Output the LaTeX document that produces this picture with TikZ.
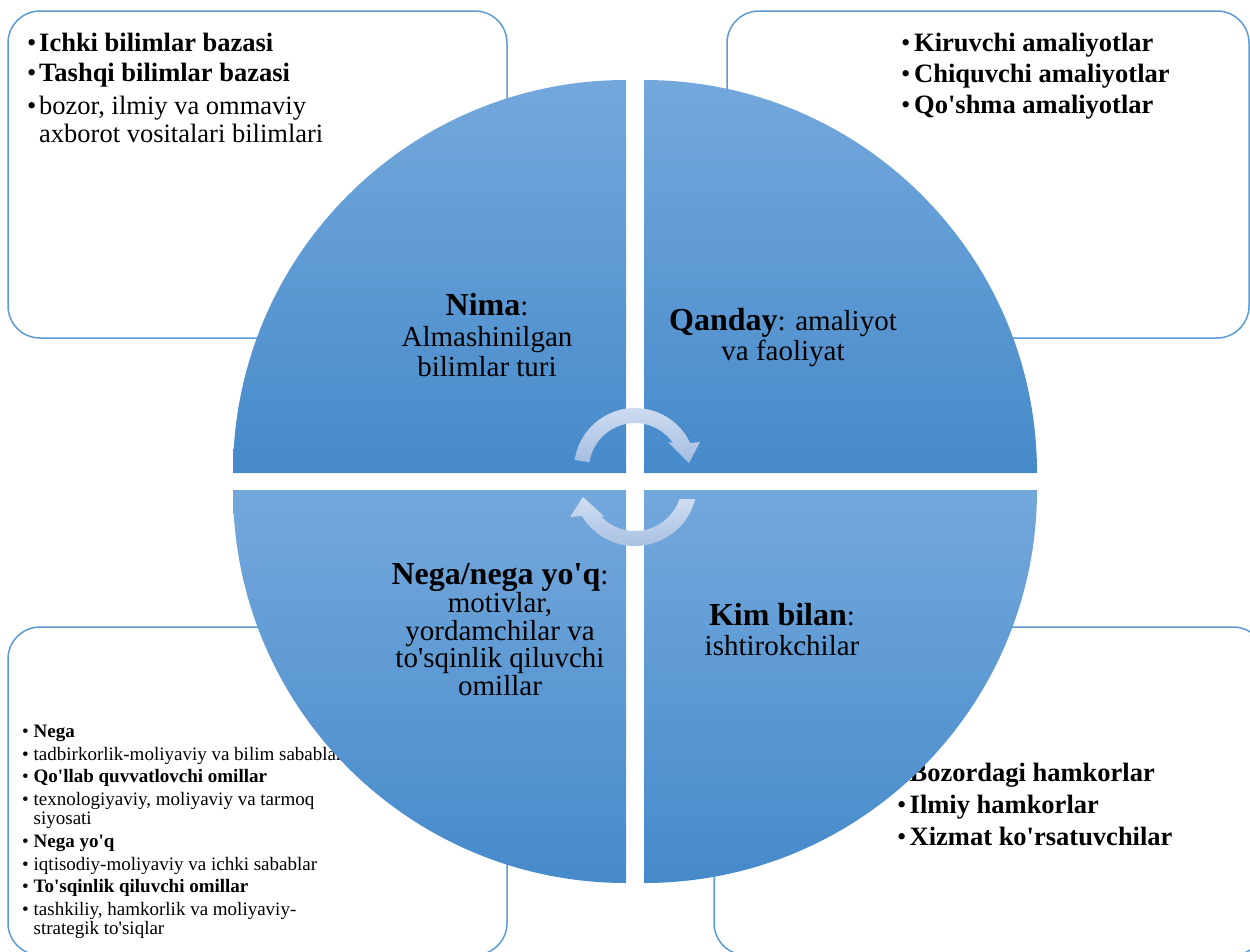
\documentclass[tikz,border=0pt]{standalone}
\usepackage{fontspec}
\setmainfont{Liberation Serif}[Ligatures=TeXOff]
\usetikzlibrary{calc}
\definecolor{boxline}{RGB}{91,155,213}
\definecolor{qtop}{RGB}{116,168,220}
\definecolor{qmid}{RGB}{90,154,214}
\definecolor{qbot}{RGB}{70,138,202}
\definecolor{arrtop}{RGB}{208,222,242}
\definecolor{arrbot}{RGB}{164,189,224}
\newcommand{\bulletbox}[1]{\makebox[#1pt][l]{•}}
\newcommand{\headword}[1]{{\fontsize{32}{36}\selectfont\bfseries #1}}

\begin{document}
\begin{tikzpicture}[x=1pt,y=-1pt,
  cornerbox/.style={draw=boxline, line width=1.5pt, fill=white, rounded corners=32pt},
  quarter/.style={top color=qtop, middle color=qmid, bottom color=qbot, draw=none},
  cyclearrow/.style={top color=arrtop, bottom color=arrbot, draw=none},
  bigitem/.style={anchor=base west, inner sep=0pt, font=\fontsize{26.5}{30}\selectfont},
  smallitem/.style={anchor=base west, inner sep=0pt, font=\fontsize{19}{21}\selectfont},
  qline/.style={anchor=base, inner sep=0pt, font=\fontsize{29}{32}\selectfont},
]
\useasboundingbox (0,0) rectangle (1250,951);
\clip (0,0) rectangle (1250,951);

% corner panels
\draw[cornerbox] (8,11) rectangle (507,338);
\draw[cornerbox] (727,11) rectangle (1249,338);
\draw[cornerbox] (8,627) rectangle (507,955);
\draw[cornerbox] (714,627) rectangle (1265,955);

% top-left panel
\node[bigitem] (tl1) at (27,51) {\bulletbox{12}\textbf{Ichki bilimlar bazasi}};
\node[bigitem] (tl2) at (27,81) {\bulletbox{12}\textbf{Tashqi bilimlar bazasi}};
\node[bigitem] (tl3) at (27,114) {\bulletbox{12}bozor, ilmiy va ommaviy};
\node[bigitem] (tl4) at (39,142) {axborot vositalari bilimlari};

% top-right panel
\node[bigitem] (tr1) at (901,51) {\bulletbox{13}\textbf{Kiruvchi amaliyotlar}};
\node[bigitem] (tr2) at (901,82) {\bulletbox{13}\textbf{Chiquvchi amaliyotlar}};
\node[bigitem] (tr3) at (901,113) {\bulletbox{13}\textbf{Qo'shma amaliyotlar}};

% bottom-right panel
\node[bigitem] (br1) at (897,781) {\bulletbox{12.5}\textbf{Bozordagi hamkorlar}};
\node[bigitem] (br2) at (897,813) {\bulletbox{12.5}\textbf{Ilmiy hamkorlar}};
\node[bigitem] (br3) at (897,845) {\bulletbox{12.5}\textbf{Xizmat ko'rsatuvchilar}};

% bottom-left panel
\node[smallitem] (bl1) at (22,737) {\bulletbox{11.5}\textbf{Nega}};
\node[smallitem] (bl2) at (22,760) {\bulletbox{11.5}tadbirkorlik-moliyaviy va bilim sabablari};
\node[smallitem] (bl3) at (22,782.5) {\bulletbox{11.5}\textbf{Qo'llab quvvatlovchi omillar}};
\node[smallitem] (bl4) at (22,805) {\bulletbox{11.5}texnologiyaviy, moliyaviy va tarmoq};
\node[smallitem] (bl5) at (33.5,824) {siyosati};
\node[smallitem] (bl6) at (22,847.5) {\bulletbox{11.5}\textbf{Nega yo'q}};
\node[smallitem] (bl7) at (22,870) {\bulletbox{11.5}iqtisodiy-moliyaviy va ichki sabablar};
\node[smallitem] (bl8) at (22,892.5) {\bulletbox{11.5}\textbf{To'sqinlik qiluvchi omillar}};
\node[smallitem] (bl9) at (22,915) {\bulletbox{11.5}tashkiliy, hamkorlik va moliyaviy-};
\node[smallitem] (bl10) at (33.5,934) {strategik to'siqlar};

% the four quarter discs
\shade[quarter] (626,473) -- (233,473) arc[start angle=180, end angle=270, radius=393] -- cycle;
\shade[quarter] (644,473) -- (644,80) arc[start angle=270, end angle=360, radius=393] -- cycle;
\shade[quarter] (626,490) -- (233,490) arc[start angle=180, end angle=90, radius=393] -- cycle;
\shade[quarter] (644,490) -- (1037,490) arc[start angle=0, end angle=90, radius=393] -- cycle;

% quarter captions
\node[qline] (q1a) at (487,315) {\headword{Nima}:};
\node[qline] (q1b) at (487,346) {Almashinilgan};
\node[qline] (q1c) at (487,376) {bilimlar turi};

\node[qline] (q2a) at (783,330) {\headword{Qanday}: amaliyot};
\node[qline] (q2b) at (783,360) {va faoliyat};

\node[qline] (q3a) at (500,584) {\headword{Nega/nega yo'q}:};
\node[qline] (q3b) at (500,612.5) {motivlar,};
\node[qline] (q3c) at (500,640) {yordamchilar va};
\node[qline] (q3d) at (500,667.5) {to'sqinlik qiluvchi};
\node[qline] (q3e) at (500,695) {omillar};

\node[qline] (q4a) at (782,625) {\headword{Kim bilan}:};
\node[qline] (q4b) at (782,655) {ishtirokchilar};

% central cycle arrows
\coordinate (ca) at (635,469);
\coordinate (cb) at (635,484);
\shade[cyclearrow] ($(ca)+(-171.5:46)$) -- ($(ca)+(-171.5:61)$)
  arc[start angle=-171.5, end angle=-25.2, radius=61]
  -- (700,442) -- (689,463) -- (668,442)
  -- ($(ca)+(-34.4:46)$) arc[start angle=-34.4, end angle=-171.5, radius=46] -- cycle;
\shade[cyclearrow] ($(cb)+(18.6:47)$) -- ($(cb)+(14:62)$)
  arc[start angle=14, end angle=148.9, radius=62]
  -- (570,517) -- (583,497) -- (605,517)
  -- ($(cb)+(137.1:47)$) arc[start angle=137.1, end angle=18.6, radius=47] -- cycle;
\end{tikzpicture}
\end{document}
